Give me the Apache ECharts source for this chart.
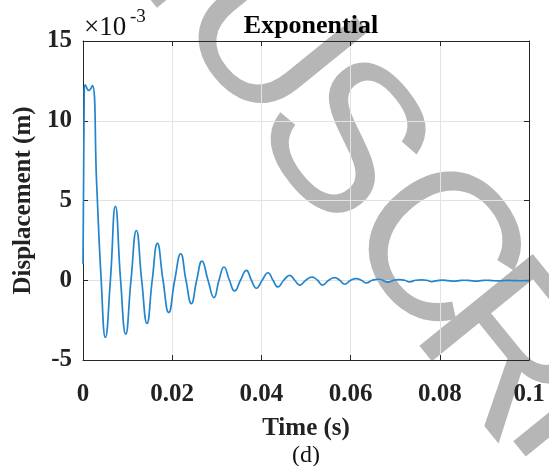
<!DOCTYPE html>
<html><head><meta charset="utf-8">
<script src="https://cdn.jsdelivr.net/npm/echarts@6/dist/echarts.min.js"></script>
<style>html,body{margin:0;padding:0;background:#fff}#c{width:549px;height:466px}</style>
</head><body><div id="c"></div>
<script>
// Time (s)
const timeS = [0, 0.00027, 0.00049, 0.00128, 0.00211, 0.00307, 0.00408, 0.00502, 0.00614, 0.00726,
  0.00843, 0.00957, 0.01076, 0.01197, 0.01316, 0.01435, 0.01552, 0.01668, 0.01794, 0.01922,
  0.02056, 0.02191, 0.02309, 0.02430, 0.02549, 0.02668, 0.02803, 0.02937, 0.03049, 0.03161,
  0.03283, 0.03401, 0.03531, 0.03664, 0.03776, 0.03888, 0.04018, 0.04148, 0.04260, 0.04372,
  0.04500, 0.04635, 0.04747, 0.04859, 0.04996, 0.05135, 0.05258, 0.05368, 0.05509, 0.05643,
  0.05756, 0.05868, 0.06002, 0.06130, 0.06242, 0.06354, 0.06484, 0.06614, 0.06720, 0.06832,
  0.06966, 0.07101, 0.07213, 0.07325, 0.07460, 0.07587, 0.07706, 0.07818, 0.07942, 0.08065,
  0.08188, 0.08312, 0.08435, 0.08558, 0.08682, 0.08805, 0.08928, 0.09052, 0.09175, 0.09298,
  0.09422, 0.09545, 0.09668, 0.09792, 0.1];
// Displacement (x 10^-3 m)
const dispE3 = [1.0, 11.8, 12.25, 11.9, 12.2, 6.0, 0, -3.59, 0, 4.64,
  0, -3.38, 0, 3.12, 0, -2.71, 0, 2.31, 0, -2.02,
  0, 1.66, 0, -1.46, 0, 1.2, 0, -1.09, 0, 0.83,
  0, -0.67, 0, 0.62, 0, -0.5, 0, 0.47, 0, -0.42,
  0, 0.31, 0, -0.3, 0, 0.2, 0, -0.3, 0, 0.16,
  0, -0.25, 0, 0.1, 0, -0.17, 0, 0.06, 0, -0.12,
  0, 0.04, 0, -0.1, 0, 0.02, 0, -0.08, -0.02, 0.01,
  -0.02, -0.06, -0.02, 0.0, -0.02, -0.05, -0.02, 0, -0.02, -0.04,
  -0.02, -0.01, -0.02, -0.03, -0.02];
const xTickLabels = ['0', '0.02', '0.04', '0.06', '0.08', '0.1'];
const yTickLabels = ['-5', '0', '5', '10', '15'];
// Background watermark letters (part of "MANUSCRIPT")
const watermarkLetters = ['N', 'U', 'S', 'C', 'R', 'I'];
const watermarkX = [165, 262, 337, 430, 502, 565];
const watermarkY = [-75, 40, 145, 252, 355, 412];

const serif = '"Liberation Serif", "Times New Roman", serif';
const axisDark = '#262626';
const points = timeS.map((t, i) => [t, dispE3[i]]);

const chart = echarts.init(document.getElementById('c'), null, {renderer: 'canvas'});
const th = -51 * Math.PI / 180;
const wm = watermarkLetters.map((ch, i) => ({
  type: 'text', x: watermarkX[i], y: watermarkY[i], rotation: th, z: -10,
  style: {text: ch, font: '212px "Liberation Sans", Arial, sans-serif', fill: '#b6b6b6',
    align: 'center', verticalAlign: 'middle'}
}));
const option = {
  backgroundColor: '#ffffff',
  animation: false,
  title: {
    text: 'Exponential', left: 306, top: 8, textAlign: 'center',
    textStyle: {fontFamily: serif, fontWeight: 'bold', fontSize: 26, color: '#000'}
  },
  grid: {left: 83, right: 20, top: 41, bottom: 106},
  xAxis: [{
    type: 'value', min: 0, max: 0.1, interval: 0.02,
    name: 'Time (s)', nameLocation: 'middle', nameGap: 56,
    nameTextStyle: {fontFamily: serif, fontWeight: 'bold', fontSize: 25, color: '#222'},
    axisLine: {onZero: false, lineStyle: {color: axisDark, width: 1}},
    axisTick: {inside: true, length: 5, lineStyle: {color: axisDark}},
    axisLabel: {margin: 22, fontFamily: serif, fontWeight: 'bold', fontSize: 25, color: '#222',
      formatter: (v) => xTickLabels[Math.round(v / 0.02)]},
    splitLine: {show: true, lineStyle: {color: '#e3e3e3', width: 1}}
  }, {
    type: 'value', position: 'top', min: 0, max: 0.1, interval: 0.02,
    axisLine: {show: true, onZero: false, lineStyle: {color: axisDark, width: 1}},
    axisTick: {inside: true, length: 5, lineStyle: {color: axisDark}},
    axisLabel: {show: false}, splitLine: {show: false}
  }],
  yAxis: [{
    type: 'value', min: -5, max: 15, interval: 5,
    name: 'Displacement (m)', nameLocation: 'middle', nameGap: 46,
    nameTextStyle: {fontFamily: serif, fontWeight: 'bold', fontSize: 25, color: '#222'},
    axisLine: {show: true, onZero: false, lineStyle: {color: axisDark, width: 1}},
    axisTick: {show: true, inside: true, length: 5, lineStyle: {color: axisDark}},
    axisLabel: {margin: 11, fontFamily: serif, fontWeight: 'bold', fontSize: 25, color: '#222',
      formatter: (v) => yTickLabels[Math.round((v + 5) / 5)]},
    splitLine: {show: true, lineStyle: {color: '#e3e3e3', width: 1}}
  }, {
    type: 'value', position: 'right', min: -5, max: 15, interval: 5,
    axisLine: {show: true, onZero: false, lineStyle: {color: axisDark, width: 1}},
    axisTick: {show: true, inside: true, length: 5, lineStyle: {color: axisDark}},
    axisLabel: {show: false}, splitLine: {show: false}
  }],
  series: [{
    type: 'line', data: points, xAxisIndex: 0, yAxisIndex: 0,
    showSymbol: false, smooth: 0.5, z: 3,
    lineStyle: {color: '#2385cc', width: 1.7}
  }],
  graphic: wm.concat([
    {type: 'text', x: 84, y: 28, z: 10,
      style: {text: '×10', font: '27px ' + serif, fill: '#111', align: 'left', verticalAlign: 'middle'}},
    {type: 'text', x: 130, y: 17, z: 10,
      style: {text: '-3', font: '19px ' + serif, fill: '#111', align: 'left', verticalAlign: 'middle'}},
    {type: 'text', x: 306, y: 456, z: 10,
      style: {text: '(d)', font: '24px ' + serif, fill: '#111', align: 'center', verticalAlign: 'middle'}}
  ])
};
chart.setOption(option);
</script></body></html>
